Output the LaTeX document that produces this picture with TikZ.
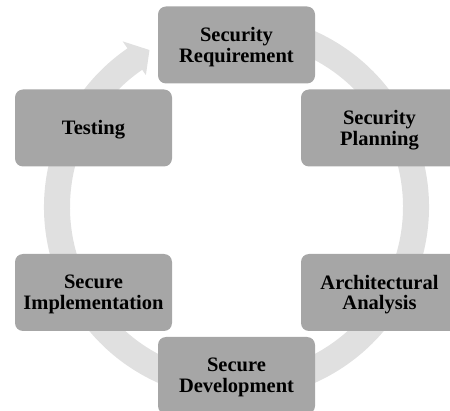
\documentclass[tikz,border=0pt]{standalone}
\usepackage{fontspec}
\setmainfont{Liberation Serif}
\begin{document}
\begin{tikzpicture}[x=1pt,y=1pt,
  phase/.style={fill=boxgray, rounded corners=8pt, minimum width=157pt, minimum height=77pt,
    inner sep=0pt},
  phasetext/.style={align=center, inner sep=0pt, yshift=-2pt,
    font=\bfseries\fontsize{20.5}{20.5}\selectfont, text=black},
]
\definecolor{boxgray}{HTML}{A6A6A6}
\definecolor{ringgray}{HTML}{E0E0E0}
\useasboundingbox (0,0) rectangle (450,410);
\clip (0,0) rectangle (450,410);

% circular arrow running clockwise behind the phases
\begin{scope}[shift={(236.5,203)}]
  \fill[ringgray] (80:192.5) arc[start angle=80, end angle=-235.5, radius=192.5]
    -- (124.5:201) -- (119:179.5) -- (124.5:160) -- (124.5:166.5)
    arc[start angle=-235.5, end angle=80, radius=166.5] -- cycle;
\end{scope}

% phases of the cycle
\node[phase, label={[phasetext]center:Security\\Requirement}]  (req)  at (236.5,365)   {};
\node[phase, label={[phasetext]center:Security\\Planning}]     (plan) at (379.5,282)   {};
\node[phase, label={[phasetext]center:Architectural\\Analysis}] (arch) at (379.5,117.5) {};
\node[phase, label={[phasetext]center:Secure\\Development}]    (dev)  at (236.5,34.5)  {};
\node[phase, label={[phasetext]center:Secure\\Implementation}] (impl) at (93.5,117.5)  {};
\node[phase, label={[phasetext]center:Testing}]                (test) at (93.5,282)    {};
\end{tikzpicture}
\end{document}
